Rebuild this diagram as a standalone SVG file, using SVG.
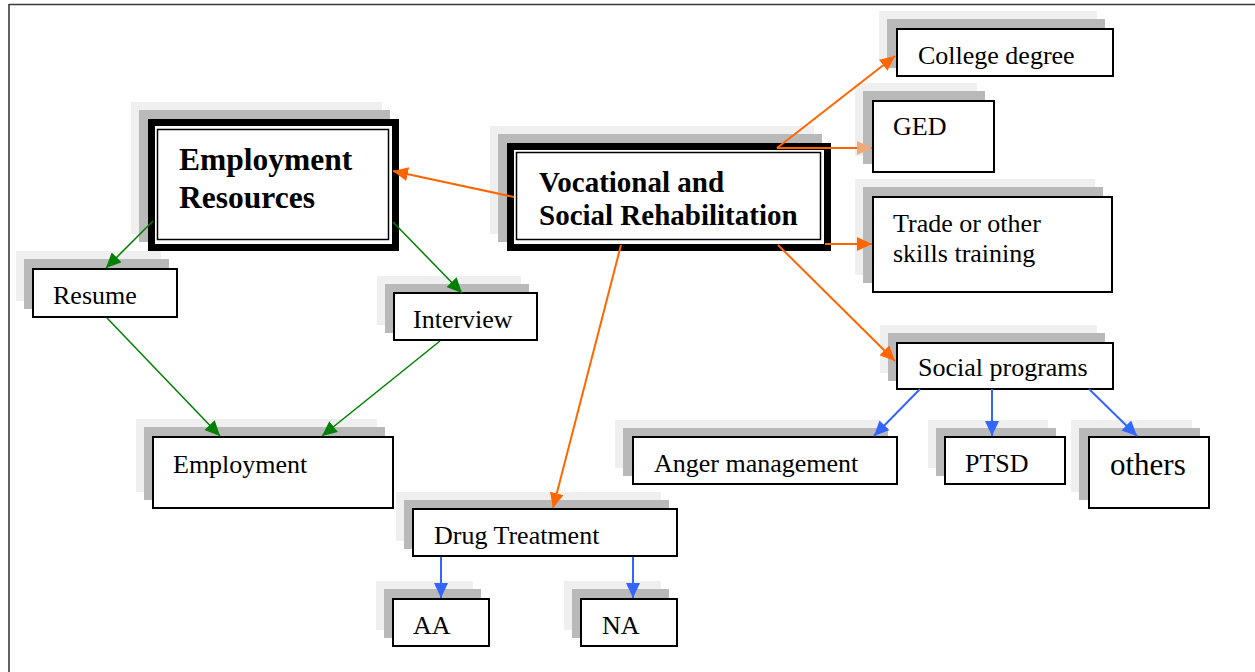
<svg xmlns="http://www.w3.org/2000/svg" width="1255" height="672" viewBox="0 0 1255 672">
<style>
text{font-family:"Liberation Serif","Times New Roman",serif;fill:#000}
.t{font-size:26px}
.b{font-size:31.5px;font-weight:bold}
.v{font-size:29px;font-weight:bold}
.box{fill:#fff;stroke:#000;stroke-width:2}
.sh1{fill:#efefef}
.sh2{fill:#b9b9b9}
.thick{fill:#fff;stroke:#000;stroke-width:7}
.inner{fill:none;stroke:#000;stroke-width:1.5}
.g{stroke:#008000;stroke-width:1.5;fill:none}
.o{stroke:#ff6600;stroke-width:2;fill:none}
.u{stroke:#3366ff;stroke-width:2;fill:none}
</style>
<defs>
<marker id="ag" markerUnits="userSpaceOnUse" markerWidth="16" markerHeight="14" refX="15" refY="7" orient="auto"><path d="M0,0 L15,7 L0,14 Z" fill="#008000"/></marker>
<marker id="ao" markerUnits="userSpaceOnUse" markerWidth="16" markerHeight="14" refX="15" refY="7" orient="auto"><path d="M0,0 L15,7 L0,14 Z" fill="#ff6600"/></marker>
<marker id="ao2" markerUnits="userSpaceOnUse" markerWidth="16" markerHeight="14" refX="15" refY="7" orient="auto"><path d="M0,0 L15,7 L0,14 Z" fill="#f2a878"/></marker>
<marker id="ab" markerUnits="userSpaceOnUse" markerWidth="16" markerHeight="14" refX="15" refY="7" orient="auto"><path d="M0,0 L15,7 L0,14 Z" fill="#3366ff"/></marker>
</defs>
<rect width="1255" height="672" fill="#fff"/>
<g id="frame" stroke="#3a3a3a" stroke-width="1.6" fill="none">
<line x1="9" y1="4.5" x2="1255" y2="4.5"/>
<line x1="9" y1="4" x2="9" y2="672"/>
</g>

<g id="employment-resources">
<rect class="sh1" x="131" y="102" width="251" height="132"/>
<rect class="sh2" x="139" y="110" width="251" height="132"/>
<rect class="thick" x="151.5" y="122.5" width="244" height="125"/>
<rect class="inner" x="157.5" y="129.5" width="231" height="110"/>
<text class="b" x="179" y="170">Employment</text>
<text class="b" x="179" y="207.5">Resources</text>
</g>

<g id="vocational">
<rect class="sh1" x="490" y="126" width="324" height="108"/>
<rect class="sh2" x="498" y="134" width="324" height="108"/>
<rect class="thick" x="510.5" y="146.5" width="317" height="101"/>
<rect class="inner" x="516.5" y="152.5" width="304" height="87"/>
<text class="v" x="539" y="191.5">Vocational and</text>
<text class="v" x="539" y="225">Social Rehabilitation</text>
</g>

<g id="college-degree">
<rect class="sh1" x="879" y="11" width="218" height="49"/>
<rect class="sh2" x="887" y="19" width="218" height="49"/>
<rect class="box" x="897" y="29" width="216" height="47"/>
<text class="t" x="918" y="64">College degree</text>
</g>

<g id="ged">
<rect class="sh1" x="855" y="83" width="122" height="73"/>
<rect class="sh2" x="863" y="91" width="122" height="73"/>
<rect class="box" x="873" y="101" width="121" height="71"/>
<text class="t" x="893" y="135">GED</text>
</g>

<g id="trade">
<rect class="sh1" x="855" y="179" width="240" height="96"/>
<rect class="sh2" x="863" y="187" width="240" height="96"/>
<rect class="box" x="873" y="197" width="239" height="95"/>
<text class="t" x="893" y="231.5">Trade or other</text>
<text class="t" x="893" y="261.5">skills training</text>
</g>

<g id="social-programs">
<rect class="sh1" x="880" y="325" width="217" height="48"/>
<rect class="sh2" x="888" y="333" width="217" height="48"/>
<rect class="box" x="897" y="343" width="216" height="46"/>
<text class="t" x="918" y="376">Social programs</text>
</g>

<g id="anger-management">
<rect class="sh1" x="615" y="420" width="265" height="48"/>
<rect class="sh2" x="623" y="428" width="265" height="48"/>
<rect class="box" x="633" y="437" width="264" height="47"/>
<text class="t" x="654" y="472">Anger management</text>
</g>

<g id="ptsd">
<rect class="sh1" x="928" y="420" width="120" height="48"/>
<rect class="sh2" x="936" y="428" width="120" height="48"/>
<rect class="box" x="945" y="437" width="120" height="47"/>
<text class="t" x="965" y="472">PTSD</text>
</g>

<g id="others">
<rect class="sh1" x="1071" y="420" width="121" height="72"/>
<rect class="sh2" x="1079" y="428" width="121" height="72"/>
<rect class="box" x="1089" y="437" width="120" height="71"/>
<text x="1110" y="475" style="font-size:31px">others</text>
</g>

<g id="resume">
<rect class="sh1" x="16" y="251" width="145" height="50"/>
<rect class="sh2" x="24" y="259" width="145" height="50"/>
<rect class="box" x="33" y="269" width="144" height="48"/>
<text class="t" x="53" y="304">Resume</text>
</g>

<g id="interview">
<rect class="sh1" x="377" y="276" width="144" height="49"/>
<rect class="sh2" x="385" y="284" width="144" height="49"/>
<rect class="box" x="394" y="293" width="143" height="47"/>
<text class="t" x="413" y="328">Interview</text>
</g>

<g id="employment">
<rect class="sh1" x="136" y="419" width="241" height="73"/>
<rect class="sh2" x="144" y="427" width="241" height="73"/>
<rect class="box" x="153" y="437" width="240" height="71"/>
<text class="t" x="173" y="473">Employment</text>
</g>

<g id="drug-treatment">
<rect class="sh1" x="396" y="492" width="265" height="49"/>
<rect class="sh2" x="404" y="500" width="265" height="49"/>
<rect class="box" x="413" y="509" width="264" height="47"/>
<text class="t" x="434" y="544">Drug Treatment</text>
</g>

<g id="aa">
<rect class="sh1" x="376" y="581" width="97" height="49"/>
<rect class="sh2" x="384" y="589" width="97" height="49"/>
<rect class="box" x="393" y="599" width="96" height="47"/>
<text class="t" x="413" y="634">AA</text>
</g>

<g id="na">
<rect class="sh1" x="564" y="581" width="97" height="49"/>
<rect class="sh2" x="572" y="589" width="97" height="49"/>
<rect class="box" x="581" y="599" width="96" height="47"/>
<text class="t" x="602" y="634">NA</text>
</g>

<g id="connectors">
<line class="g" x1="153" y1="221" x2="106" y2="268" marker-end="url(#ag)"/>
<line class="g" x1="393" y1="222" x2="462" y2="293" marker-end="url(#ag)"/>
<line class="g" x1="107" y1="318" x2="220" y2="436" marker-end="url(#ag)"/>
<line class="g" x1="440" y1="341" x2="322" y2="436" marker-end="url(#ag)"/>
<line class="o" x1="514" y1="197" x2="393" y2="171" marker-end="url(#ao)"/>
<line class="o" x1="777" y1="148" x2="895" y2="56" marker-end="url(#ao)"/>
<line class="o" x1="777" y1="148" x2="872" y2="148" marker-end="url(#ao2)"/>
<line class="o" x1="825" y1="244" x2="872" y2="244" marker-end="url(#ao)"/>
<line class="o" x1="778" y1="245" x2="895" y2="361" marker-end="url(#ao)"/>
<line class="o" x1="621" y1="245" x2="553" y2="508" marker-end="url(#ao)"/>
<line class="u" x1="920" y1="389" x2="874" y2="436" marker-end="url(#ab)"/>
<line class="u" x1="992" y1="389" x2="992" y2="436" marker-end="url(#ab)"/>
<line class="u" x1="1089" y1="389" x2="1137" y2="436" marker-end="url(#ab)"/>
<line class="u" x1="441" y1="557" x2="441" y2="598" marker-end="url(#ab)"/>
<line class="u" x1="633" y1="557" x2="633" y2="598" marker-end="url(#ab)"/>
</g>
</svg>
